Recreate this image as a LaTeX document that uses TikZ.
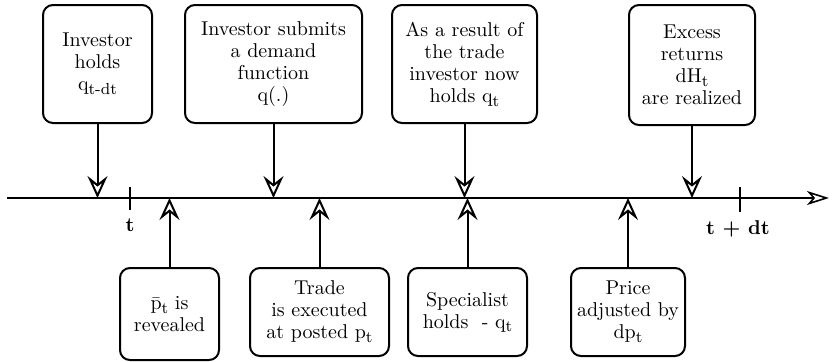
\documentclass[tikz,border=0pt]{standalone}
\usepackage{fontspec}
\usetikzlibrary{arrows.meta}
% lowered index in running text
\newcommand{\idx}[1]{\raisebox{-0.45ex}{\fontsize{8}{8}\selectfont #1}}
\begin{document}
\begin{tikzpicture}[x=0.5pt,y=-0.5pt,
    event/.style={draw, line width=1pt, rounded corners=5pt, inner sep=0pt,
      align=center, font=\fontsize{10}{11}\selectfont},
    evarrow/.style={line width=1pt, -{Stealth[open,length=11pt,width=10pt,inset=4pt]}}]
        \useasboundingbox (0,0) rectangle (832,361);
        % timeline
        \coordinate (axis) at (0,198);
        \coordinate (start) at (7,198);
        \coordinate (end) at (829,198);
        \draw[line width=0.8pt, -{Stealth[open,length=11pt,width=7pt,inset=3pt]}] (start) -- (end);
        \draw[line width=1.3pt] (130,187) -- (130,210);
        \draw[line width=1.3pt] (740,187) -- (740,212);
        \node[font=\fontsize{10}{11}\selectfont\bfseries] (t) at (130,225) {t};
        \node[font=\fontsize{10}{11}\selectfont\bfseries] (tdt) at (738,229) {t + dt};
        % investor side
        \node[event, minimum width=54.5pt, minimum height=59pt] (hold) at (97.5,64)
          {Investor\\holds\\q\idx{t-dt}};
        \node[event, minimum width=88.5pt, minimum height=59pt] (demand) at (273.5,64)
          {Investor submits\\a demand\\function\\q(.)};
        \node[event, minimum width=72.5pt, minimum height=59pt] (result) at (464.5,64)
          {As a result of\\the trade\\investor now\\holds q\idx{t}};
        \node[event, minimum width=63pt, minimum height=60pt] (excess) at (692,65)
          {Excess\\returns\\dH\idx{t}\\are realized};
        % market side
        \node[event, minimum width=49.5pt, minimum height=46pt] (reveal) at (169.5,314)
          {$\bar{\mbox{p}}$\idx{t} is\\revealed};
        \node[event, minimum width=69.5pt, minimum height=44pt] (trade) at (319.5,312)
          {Trade\\is executed\\at posted p\idx{t}};
        \node[event, minimum width=59.5pt, minimum height=44pt] (special) at (467.5,312)
          {Specialist\\holds \ - q\idx{t}};
        \node[event, minimum width=57pt, minimum height=44pt] (price) at (628,312)
          {Price\\adjusted by\\dp\idx{t}};
        % arrows to the timeline
        \foreach \e in {hold,demand,result,excess,reveal,trade,special,price}
          \draw[evarrow] (\e) -- (\e |- axis);
\end{tikzpicture}
\end{document}
